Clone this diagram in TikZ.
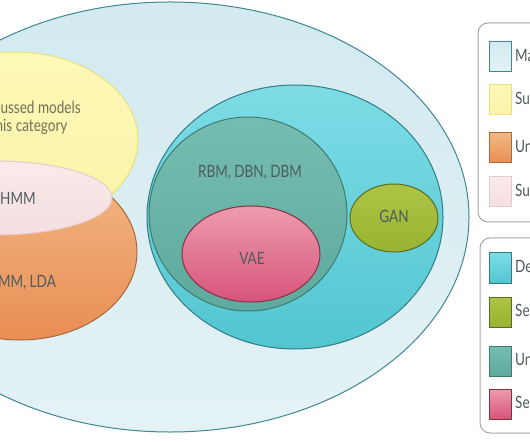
\documentclass[tikz,border=0pt]{standalone}
\usepackage{fontspec}
\setmainfont{Lato}[FakeStretch=0.8]
\usetikzlibrary{shapes.geometric}

\definecolor{mlA}{HTML}{D2EAF0}
\definecolor{mlB}{HTML}{E4F2F5}
\definecolor{mlD}{HTML}{3F8791}
\definecolor{nsA}{HTML}{FCF8B6}
\definecolor{nsB}{HTML}{FAF3A8}
\definecolor{nsD}{HTML}{E9E07E}
\definecolor{usA}{HTML}{F2B883}
\definecolor{usB}{HTML}{E98E55}
\definecolor{usD}{HTML}{A8693A}
\definecolor{suA}{HTML}{FAEAEA}
\definecolor{suB}{HTML}{F5DEDF}
\definecolor{suD}{HTML}{E6C9CB}
\definecolor{dlA}{HTML}{7DDCE6}
\definecolor{dlB}{HTML}{52C6D0}
\definecolor{dlD}{HTML}{2F7C85}
\definecolor{gnA}{HTML}{AEC544}
\definecolor{gnB}{HTML}{98B232}
\definecolor{gnD}{HTML}{5A6B1E}
\definecolor{udA}{HTML}{76BDB1}
\definecolor{udB}{HTML}{5EAA9C}
\definecolor{udD}{HTML}{3E7B72}
\definecolor{vaA}{HTML}{EE9CAD}
\definecolor{vaB}{HTML}{D6547A}
\definecolor{vaD}{HTML}{8A2E46}
\definecolor{txt}{HTML}{4E5B5E}
\definecolor{txtns}{HTML}{75705A}

\tikzset{
  region/.style={ellipse, line width=1bp, inner sep=0pt},
  lbl/.style={text=txt, font=\fontsize{17}{19}\selectfont, inner sep=0pt},
  keybox/.style={draw=gray!70, line width=1bp, fill=white, rounded corners=10bp},
  key/.style={line width=1bp, minimum width=22bp, minimum height=30bp, inner sep=0pt},
}

\begin{document}
\begin{tikzpicture}[x=1bp, y=-1bp]
  \useasboundingbox (0,0) rectangle (530,442);
  \clip (0,0) rectangle (530,442);
  \fill[white] (0,0) rectangle (530,442);

  % machine learning and its classical part
  \node[region, top color=mlA, bottom color=mlB, draw=mlD,
        minimum width=598bp, minimum height=430bp] (ml) at (170,217) {};
  \node[region, top color=nsA, bottom color=nsB, draw=nsD,
        minimum width=246bp, minimum height=176bp] (ns) at (15,140) {};
  \node[region, top color=usA, bottom color=usB, draw=usD,
        minimum width=234bp, minimum height=176bp] (us) at (20,252) {};
  \node[region, top color=suA, bottom color=suB, draw=suD,
        minimum width=234bp, minimum height=74bp] (su) at (-5,198) {};

  % deep learning
  \node[region, top color=dlA, bottom color=dlB, draw=dlD,
        minimum width=296bp, minimum height=264bp] (dl) at (295,217) {};
  \node[region, top color=udA, bottom color=udB, draw=udD,
        minimum width=198bp, minimum height=194bp] (ud) at (248,214) {};
  \node[region, top color=vaA, bottom color=vaB, draw=vaD,
        minimum width=138bp, minimum height=96bp] (va) at (251,254) {};
  \node[region, top color=gnA, bottom color=gnB, draw=gnD,
        minimum width=88bp, minimum height=68bp] (gn) at (394,218) {};

  \node[lbl, text=txtns] (t-ns1) at (16,107) {Not discussed models};
  \node[lbl, text=txtns] (t-ns2) at (22,127) {in this category};
  \node[lbl] (t-su) at (18,198) {HMM};
  \node[lbl] (t-us) at (22,283) {GMM, LDA};
  \node[lbl] (t-ud) at (250,173) {RBM, DBN, DBM};
  \node[lbl] (t-va) at (252,258) {VAE};
  \node[lbl] (t-gn) at (394,216) {GAN};

  % legend
  \draw[keybox] (478,23) rectangle (580,222);
  \draw[keybox] (480,238) rectangle (580,433);
  \foreach \y/\c/\t in
    { 57/ml/Machine learning,
     100/ns/Supervised learning,
     148/us/Unsupervised learning,
     192/su/Supervised and unsupervised,
     268/dl/Deep learning,
     312/gn/Semi-supervised,
     361/ud/Unsupervised,
     404/va/Semi-supervised
    }
    {
    \node[key, top color=\c A, bottom color=\c B, draw=\c D] (key-\c) at (500,\y) {};
    \node[lbl, anchor=west] (lab-\c) at (515,\y) {\t};
    }
\end{tikzpicture}
\end{document}
